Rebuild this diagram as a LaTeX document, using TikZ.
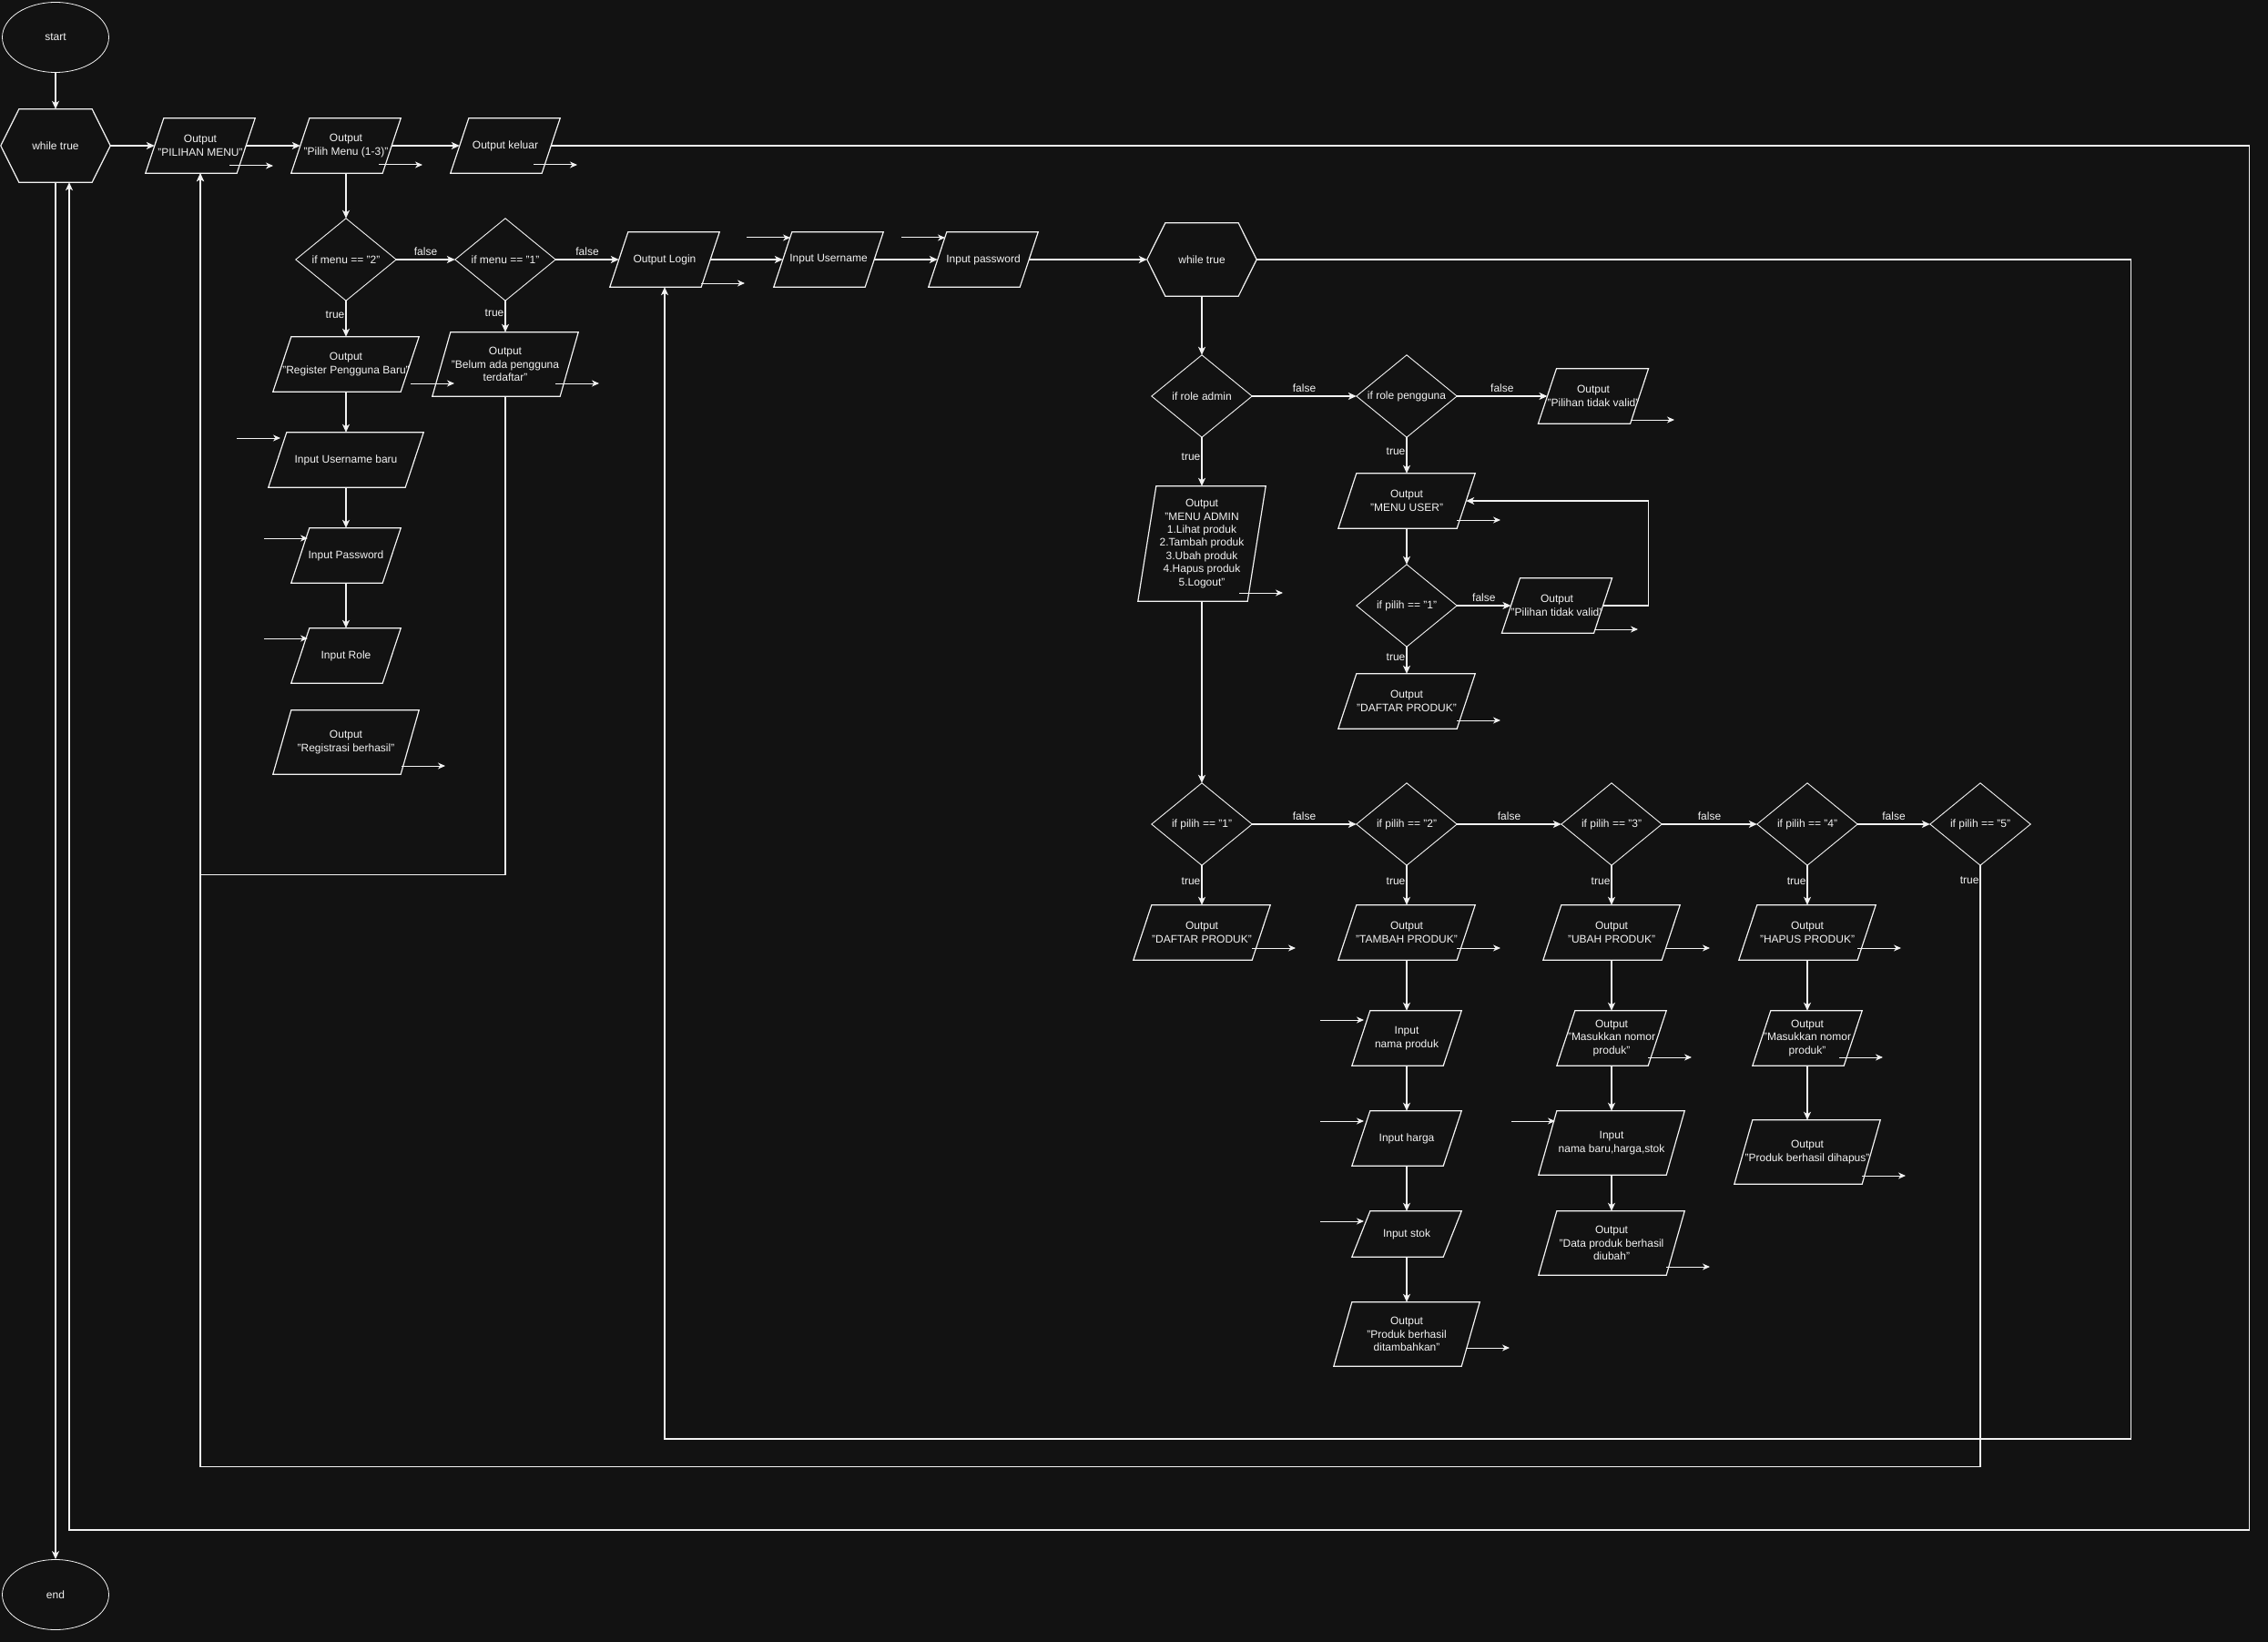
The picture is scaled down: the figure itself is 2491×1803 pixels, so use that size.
\documentclass[tikz,border=0pt]{standalone}
\usepackage{fontspec}
\setmainfont{Liberation Sans}
\definecolor{bgDark}{HTML}{121212}
\definecolor{fgWhite}{HTML}{F2F2F2}
\usepackage{tikz}
\usetikzlibrary{arrows.meta,calc,shapes.geometric}

\begin{document}
\begin{tikzpicture}[x=1pt, y=-1pt,
    box/.style={rectangle, inner sep=0pt, align=center, text=fgWhite,
      font=\fontsize{12}{14.4}\selectfont},
    io/.style={box, minimum width=#1, minimum height=60},
    io/.default=100,
    dec/.style={box, minimum width=110, minimum height=90},
    loopbox/.style={box, minimum width=120, minimum height=80},
    term/.style={box, ellipse, draw=fgWhite, line width=0.8pt,
      minimum width=117, minimum height=77},
    outline/.style={draw=fgWhite, line width=1.2pt},
    thinline/.style={draw=fgWhite, line width=0.9pt},
    flow/.style={draw=fgWhite, line width=1.2pt,
      -{Stealth[length=9pt, width=8pt, inset=2.5pt]}},
    stub/.style={draw=fgWhite, line width=1pt,
      -{Stealth[length=8pt, width=7pt, inset=2.5pt]}},
    lbl/.style={text=fgWhite, inner sep=0pt, font=\fontsize{12}{14.4}\selectfont}]
  % Background
  \useasboundingbox (0,0) rectangle (2491,1803);
  \fill[bgDark] (-10,-10) rectangle (2501,1813);

  % Main menu
  \node[term] (start) at (61,41) {start};
  \node[loopbox] (wt) at (61,160) {while true};
  \node[io] (pm) at (220,160) {Output\\"PILIHAN MENU"};
  \node[io] (pil) at (380,160) {Output\\"Pilih Menu (1-3)"};
  \node[io] (kel) at (555,160) {Output keluar};
  \node[dec] (m2) at (380,285) {if menu == "2"};
  \node[dec] (m1) at (555,285) {if menu == "1"};
  \node[term] (en) at (61,1751) {end};

  % Register
  \node[io=140] (reg) at (380,400) {Output\\"Register Pengguna Baru"};
  \node[io=140, minimum height=70] (belum) at (555,400) {Output\\"Belum ada pengguna\\terdaftar"};
  \node[io=150] (iub) at (380,505) {Input Username baru};
  \node[io] (ipw) at (380,610) {Input Password};
  \node[io] (irole) at (380,720) {Input Role};
  \node[io=140, minimum height=70] (regok) at (380,815) {Output\\"Registrasi berhasil"};

  % Login
  \node[io] (login) at (730,285) {Output Login};
  \node[io] (iu) at (910,285) {Input Username};
  \node[io] (ip) at (1080,285) {Input password};
  \node[loopbox] (wt2) at (1320,285) {while true};
  \node[dec] (ra) at (1320,435) {if role admin};
  \node[dec] (rp) at (1545,435) {if role pengguna};
  \node[io] (pv1) at (1750,435) {Output\\"Pilihan tidak valid"};

  % User menu
  \node[io=130] (muser) at (1545,550) {Output\\"MENU USER"};
  \node[dec] (up1) at (1545,665) {if pilih == "1"};
  \node[io] (pv2) at (1710,665) {Output\\"Pilihan tidak valid"};
  \node[io=130] (udaftar) at (1545,770) {Output\\"DAFTAR PRODUK"};

  % Admin menu
  \node[io=120, minimum height=126] (madmin) at (1320,597) {Output\\"MENU ADMIN\\1.Lihat produk\\2.Tambah produk\\3.Ubah produk\\4.Hapus produk\\5.Logout"};
  \node[dec] (p1) at (1320,905) {if pilih == "1"};
  \node[dec] (p2) at (1545,905) {if pilih == "2"};
  \node[dec] (p3) at (1770,905) {if pilih == "3"};
  \node[dec] (p4) at (1985,905) {if pilih == "4"};
  \node[dec] (p5) at (2175,905) {if pilih == "5"};
  \node[io=130] (adaftar) at (1320,1024) {Output\\"DAFTAR PRODUK"};
  \node[io=130] (tambah) at (1545,1024) {Output\\"TAMBAH PRODUK"};
  \node[io=130] (ubah) at (1770,1024) {Output\\"UBAH PRODUK"};
  \node[io=130] (hapus) at (1985,1024) {Output\\"HAPUS PRODUK"};
  \node[io] (inama) at (1545,1140) {Input\\nama produk};
  \node[io] (iharga) at (1545,1250) {Input harga};
  \node[io, minimum height=50] (istok) at (1545,1355) {Input stok};
  \node[io=140, minimum height=70] (tok) at (1545,1465) {Output\\"Produk berhasil\\ditambahkan"};
  \node[io] (umasuk) at (1770,1140) {Output\\"Masukkan nomor\\produk"};
  \node[io=140, minimum height=70] (ibaru) at (1770,1255) {Input\\nama baru,harga,stok};
  \node[io=140, minimum height=70] (uok) at (1770,1365) {Output\\"Data produk berhasil\\diubah"};
  \node[io] (hmasuk) at (1985,1140) {Output\\"Masukkan nomor\\produk"};
  \node[io=140, minimum height=70] (hok) at (1985,1265) {Output\\"Produk berhasil dihapus"};

  % Shape outlines
  \foreach \n in {pm,pil,kel,reg,belum,iub,ipw,irole,regok,login,iu,ip,pv1,muser,pv2,udaftar,
      madmin,adaftar,tambah,ubah,hapus,inama,iharga,istok,tok,umasuk,ibaru,uok,hmasuk,hok}
    \draw[outline] ($(\n.north west)+(10,0)$) -- ($(\n.north east)+(10,0)$)
      -- ($(\n.south east)+(-10,0)$) -- ($(\n.south west)+(-10,0)$) -- cycle;
  \foreach \n in {m2,m1,ra,rp,up1,p1,p2,p3,p4,p5}
    \draw[thinline] (\n.north) -- (\n.east) -- (\n.south) -- (\n.west) -- cycle;
  \foreach \n in {wt,wt2}
    \draw[outline] (\n.west) -- ($(\n.north west)+(20,0)$) -- ($(\n.north east)+(-20,0)$)
      -- (\n.east) -- ($(\n.south east)+(-20,0)$) -- ($(\n.south west)+(20,0)$) -- cycle;

  % Main flow
  \draw[flow] (start) -- (wt);
  \draw[flow] (wt) -- (pm);
  \draw[flow] (pm) -- (pil);
  \draw[flow] (pil) -- (kel);
  \draw[flow] (kel.east) -| ++(1865,1520) -| ($(wt.south)+(15,0)$);
  \draw[flow] (wt.south) -- (en.north);
  \draw[flow] (pil) -- (m2);
  \draw[flow] (m2) -- node[lbl, above=4pt] {false} (m1);
  \draw[flow] (m1) -- node[lbl, above=4pt] {false} (login);
  \draw[flow] (m2) -- node[lbl, left=1pt, pos=0.4] {true} (reg);
  \draw[flow] (m1) -- node[lbl, left=1pt, pos=0.4] {true} (belum);

  % Register flow
  \draw[flow] (reg) -- (iub);
  \draw[flow] (iub) -- (ipw);
  \draw[flow] (ipw) -- (irole);
  \draw[flow] (belum.south) -- ++(0,525) -| (pm.south);

  % Login flow
  \draw[flow] (login) -- (iu);
  \draw[flow] (iu) -- (ip);
  \draw[flow] (ip) -- (wt2);
  \draw[flow] (wt2.east) -| ++(960,1295) -| (login.south);
  \draw[flow] (wt2) -- (ra);
  \draw[flow] (ra) -- node[lbl, above=4pt] {false} (rp);
  \draw[flow] (rp) -- node[lbl, above=4pt] {false} (pv1);
  \draw[flow] (ra) -- node[lbl, left=1pt, pos=0.4] {true} (madmin);
  \draw[flow] (rp) -- node[lbl, left=1pt, pos=0.4] {true} (muser);

  % User flow
  \draw[flow] (muser) -- (up1);
  \draw[flow] (up1) -- node[lbl, above=4pt] {false} (pv2);
  \draw[flow] (pv2.east) -- ++(50,0) |- (muser.east);
  \draw[flow] (up1) -- node[lbl, left=1pt, pos=0.4] {true} (udaftar);

  % Admin flow
  \draw[flow] (madmin) -- (p1);
  \draw[flow] (p1) -- node[lbl, above=4pt] {false} (p2);
  \draw[flow] (p2) -- node[lbl, above=4pt] {false} (p3);
  \draw[flow] (p3) -- node[lbl, above=4pt] {false} (p4);
  \draw[flow] (p4) -- node[lbl, above=4pt] {false} (p5);
  \draw[flow] (p1) -- node[lbl, left=1pt, pos=0.4] {true} (adaftar);
  \draw[flow] (p2) -- node[lbl, left=1pt, pos=0.4] {true} (tambah);
  \draw[flow] (p3) -- node[lbl, left=1pt, pos=0.4] {true} (ubah);
  \draw[flow] (p4) -- node[lbl, left=1pt, pos=0.4] {true} (hapus);
  \draw[flow] (p5.south) -- node[lbl, left=1pt, pos=0.025] {true} ++(0,660) -| (pm.south);
  \draw[flow] (tambah) -- (inama);
  \draw[flow] (inama) -- (iharga);
  \draw[flow] (iharga) -- (istok);
  \draw[flow] (istok) -- (tok);
  \draw[flow] (ubah) -- (umasuk);
  \draw[flow] (umasuk) -- (ibaru);
  \draw[flow] (ibaru) -- (uok);
  \draw[flow] (hapus) -- (hmasuk);
  \draw[flow] (hmasuk) -- (hok);

  % Loose arrows
  \foreach \n/\dx/\dy in {pm/32/22, pil/36/21, kel/31/21, reg/71/21, belum/55/21,
      regok/61/26, login/40/26, madmin/41/54, pv1/41/26, muser/55/21, pv2/41/26,
      udaftar/55/21, adaftar/55/17, tambah/55/17, ubah/60/17, hapus/55/17,
      umasuk/40/21, hmasuk/35/21, tok/65/15, uok/60/26, hok/60/26,
      iub/-120/-24, ipw/-90/-19, irole/-90/-19, iu/-90/-24, ip/-90/-24,
      inama/-95/-20, iharga/-95/-19, istok/-95/-14, ibaru/-110/-24}
    \draw[stub] ($(\n)+(\dx,\dy)$) -- ++(48,0);
\end{tikzpicture}
\end{document}
